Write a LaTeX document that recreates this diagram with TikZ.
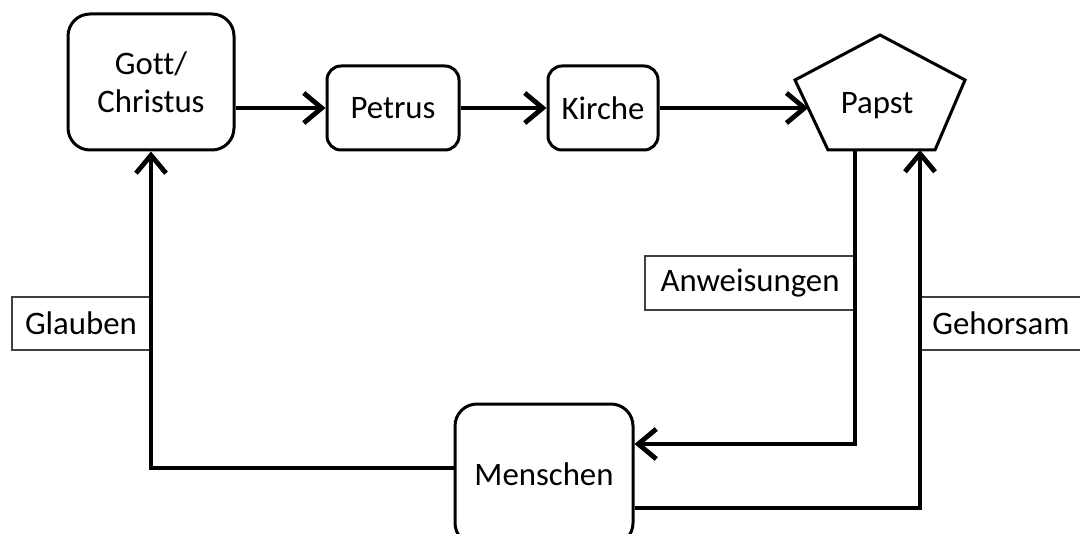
\documentclass[tikz,border=0pt]{standalone}
\usepackage{fontspec}
\setmainfont{Carlito}[Ligatures=NoCommon]
\usetikzlibrary{arrows.meta,calc}
\begin{document}
\begin{tikzpicture}[x=0.5pt,y=-0.5pt,
  txt/.style={font=\fontsize{16.4}{19}\selectfont},
  box/.style={draw,line width=1.5pt,rounded corners=#1,align=center,inner sep=0pt,txt},
  box/.default=7pt,
  lbl/.style={draw=black!75,line width=0.9pt,inner sep=0pt,txt},
  arr/.style={line width=2.4pt,-{Straight Barb[length=9pt,width=15pt]}}]
\useasboundingbox (0,0) rectangle (1080,534);
% nodes
\node[box=11pt,minimum width=83pt,minimum height=68pt] (gott) at (151,82) {Gott/\\Christus};
\node[box,minimum width=66pt,minimum height=42pt] (petrus) at (393,108) {Petrus};
\node[box,minimum width=55pt,minimum height=42pt] (kirche) at (603,108) {Kirche};
\coordinate (pT) at (880,35);
\coordinate (pR) at (965,80);
\coordinate (pBR) at (935,150);
\coordinate (pBL) at (828,150);
\coordinate (pL) at (795,80);
\draw[line width=1.5pt,line join=miter] (pT)--(pR)--(pBR)--(pBL)--(pL)--cycle;
\node[txt] (papst) at (877,106) {Papst};
\coordinate (pIn) at ($(pL)!0.4!(pBL)$);
\coordinate (aTop) at (855,150);
\coordinate (gTop) at (920,150);
\node[box=11pt,minimum width=89pt,minimum height=70.5pt] (menschen) at (544,474.5) {Menschen};
% labels
\node[lbl,minimum width=69pt,minimum height=26.5pt] (glauben) at (81,323.5) {Glauben};
\node[lbl,minimum width=105pt,minimum height=27pt] (anw) at (750,283) {Anweisungen};
\node[lbl,minimum width=81pt,minimum height=26.5pt] (geh) at (1001,323.5) {Gehorsam};
% connectors
\draw[arr] (gott.east |- petrus.west) -- (petrus.west);
\draw[arr] (petrus) -- (kirche);
\draw[arr] (kirche.east) -- (kirche.east -| pIn);
\draw[arr] (aTop) |- ($(menschen.east)+(0,-30.5)$);
\draw[arr] ($(menschen.east)+(0,33.5)$) -| (gTop);
\draw[arr] ($(menschen.west)+(0,-6.5)$) -| (gott.south);
\end{tikzpicture}
\end{document}
